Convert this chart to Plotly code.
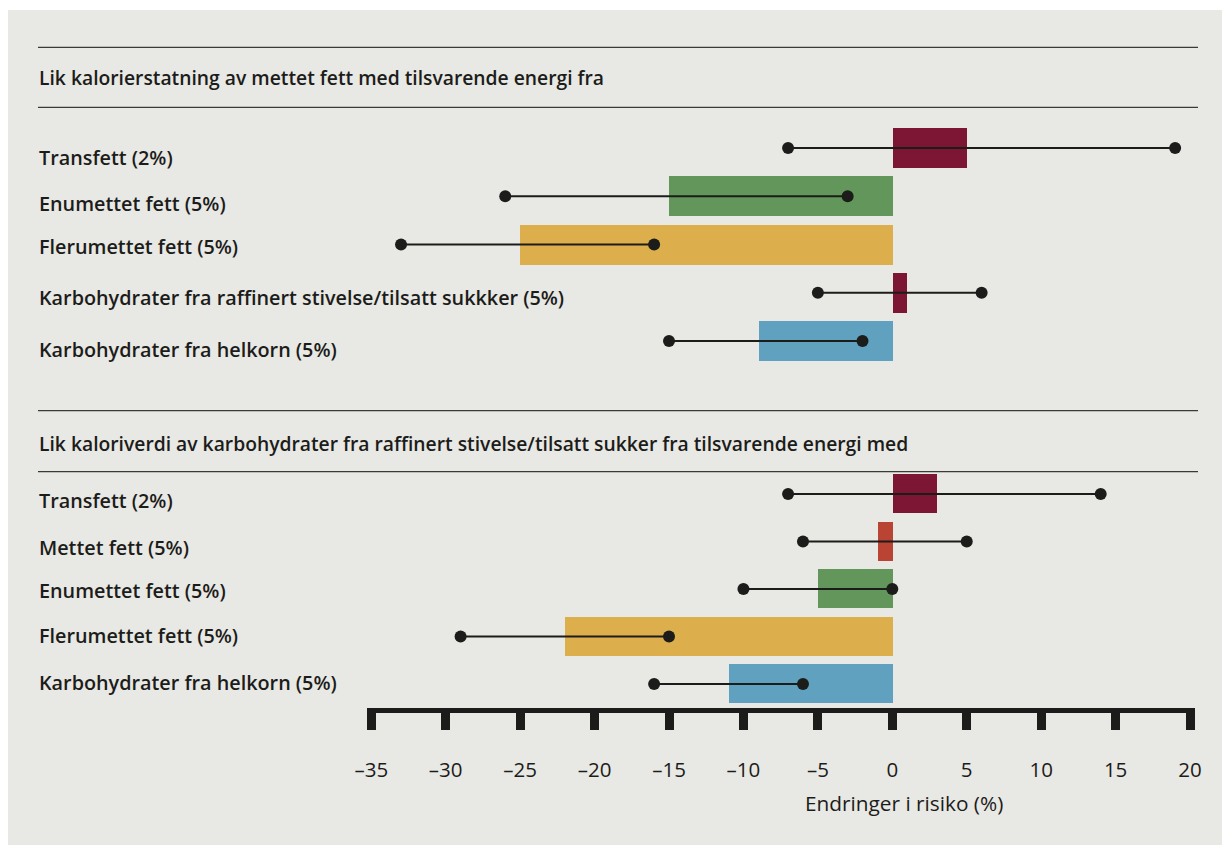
import plotly.graph_objects as go

W, H = 1222, 845

# ---------------- data ----------------
panel1_title = "Lik kalorierstatning av mettet fett med tilsvarende energi fra"
panel1_cats = [
    "Transfett (2%)",
    "Enumettet fett (5%)",
    "Flerumettet fett (5%)",
    "Karbohydrater fra raffinert stivelse/tilsatt sukkker (5%)",
    "Karbohydrater fra helkorn (5%)",
]
panel1_values = [5, -15, -25, 1, -9]
panel1_low = [-7, -26, -33, -5, -15]
panel1_high = [19, -3, -16, 6, -2]

panel2_title = "Lik kaloriverdi av karbohydrater fra raffinert stivelse/tilsatt sukker fra tilsvarende energi med"
panel2_cats = [
    "Transfett (2%)",
    "Mettet fett (5%)",
    "Enumettet fett (5%)",
    "Flerumettet fett (5%)",
    "Karbohydrater fra helkorn (5%)",
]
panel2_values = [3, -1, -5, -22, -11]
panel2_low = [-7, -6, -10, -29, -16]
panel2_high = [14, 5, 0, -15, -6]

x_ticks = [-35, -30, -25, -20, -15, -10, -5, 0, 5, 10, 15, 20]
x_title = "Endringer i risiko (%)"

# ---------------- style ----------------
BG = "#e8e8e4"
INK = "#1c1c1a"
FONT = "Open Sans"
COLORS = {
    "Transfett": "#7d1535",
    "Mettet": "#b94434",
    "Enumettet": "#62965a",
    "Flerumettet": "#dcaf4c",
    "Karbohydrater fra raffinert": "#7d1535",
    "Karbohydrater fra helkorn": "#60a1bf",
}


def color_for(cat):
    for k, c in COLORS.items():
        if cat.startswith(k):
            return c
    return "#888888"


def px_x(p):
    return p / W


def px_y(p):
    return (H - p) / H


fig = go.Figure()


def add_panel(cats, vals, lows, highs, yaxis):
    fig.add_trace(go.Bar(
        y=cats, x=vals, base=0, orientation="h",
        marker=dict(color=[color_for(c) for c in cats], line=dict(width=0)),
        width=0.83, xaxis="x", yaxis=yaxis, showlegend=False, hoverinfo="skip",
    ))
    xs, ys = [], []
    for c, lo, hi in zip(cats, lows, highs):
        xs += [lo, hi, None]
        ys += [c, c, None]
    fig.add_trace(go.Scatter(
        x=xs, y=ys, mode="lines+markers", xaxis="x", yaxis=yaxis,
        line=dict(color=INK, width=2.2),
        marker=dict(color=INK, size=12),
        showlegend=False, hoverinfo="skip", connectgaps=False,
    ))


add_panel(panel1_cats, panel1_values, panel1_low, panel1_high, "y")
add_panel(panel2_cats, panel2_values, panel2_low, panel2_high, "y2")

# layout positions (pixels)
x_left_px, x_right_px = 366.8, 1194.5
y1_top, y1_bot = 123.9, 365.1
y2_top, y2_bot = 470.25, 707.75
label_y_px_1 = [157.8, 204, 247, 297.5, 349]
label_y_px_2 = [500.5, 547, 590, 635.3, 682]
rules_px = [47.3, 107.3, 410.7, 471.7]

fig.update_layout(
    width=W, height=H, autosize=False,
    margin=dict(l=0, r=0, t=0, b=0, pad=0, autoexpand=False),
    paper_bgcolor="#ffffff",
    plot_bgcolor="rgba(0,0,0,0)",
    font=dict(family=FONT, color=INK),
    bargap=0,
    showlegend=False,
    xaxis=dict(
        domain=[px_x(x_left_px), px_x(x_right_px)],
        anchor="y2",
        range=[-35.3, 20.3],
        tickmode="array", tickvals=x_ticks,
        ticktext=[("–" + str(-v)) if v < 0 else str(v) for v in x_ticks],
        showgrid=False, zeroline=False,
        showline=True, linewidth=5, linecolor=INK,
        ticks="outside", ticklen=17, tickwidth=9, tickcolor=INK,
        tickfont=dict(family=FONT, size=20.5, color=INK, weight=500),
        ticklabelstandoff=23,
        automargin=False,
        fixedrange=True,
    ),
    yaxis=dict(
        domain=[px_y(y1_bot), px_y(y1_top)],
        anchor="x", type="category",
        categoryorder="array", categoryarray=panel1_cats,
        range=[4.5, -0.5], automargin=False,
        showticklabels=False, showgrid=False, zeroline=False, showline=False,
        ticks="",
    ),
    yaxis2=dict(
        domain=[px_y(y2_bot), px_y(y2_top)],
        anchor="x", type="category",
        categoryorder="array", categoryarray=panel2_cats,
        range=[4.5, -0.5], automargin=False,
        showticklabels=False, showgrid=False, zeroline=False, showline=False,
        ticks="",
    ),
)

shapes = [dict(type="rect", xref="paper", yref="paper",
               x0=px_x(8), x1=px_x(1222), y0=px_y(845), y1=px_y(10),
               fillcolor=BG, line=dict(width=0), layer="below")]
for r in rules_px:
    shapes.append(dict(type="line", xref="paper", yref="paper",
                       x0=px_x(38), x1=px_x(1198), y0=px_y(r), y1=px_y(r),
                       line=dict(color="#3a3a38", width=1.3), layer="below"))
fig.update_layout(shapes=shapes)

annotations = []
for txt, ypx in [(panel1_title, 77.5), (panel2_title, 443.5)]:
    annotations.append(dict(text=txt, xref="paper", yref="paper",
                            x=px_x(37), y=px_y(ypx), xanchor="left", yanchor="middle",
                            showarrow=False, font=dict(family=FONT, size=19.3, color=INK, weight=600)))
for cats, ys in [(panel1_cats, label_y_px_1), (panel2_cats, label_y_px_2)]:
    for c, ypx in zip(cats, ys):
        annotations.append(dict(text=c, xref="paper", yref="paper",
                                x=px_x(37), y=px_y(ypx), xanchor="left", yanchor="middle",
                                showarrow=False, font=dict(family=FONT, size=19.8, color=INK, weight=600)))
annotations.append(dict(text=x_title, xref="paper", yref="paper",
                        x=px_x(903.5), y=px_y(803), xanchor="center", yanchor="middle",
                        showarrow=False, font=dict(family=FONT, size=20.8, color=INK, weight=500)))
fig.update_layout(annotations=annotations)

fig.write_html(
    "out.html",
    config={"responsive": False, "displayModeBar": False},
    post_script="document.body.style.margin='0';document.body.style.overflow='hidden';",
)
